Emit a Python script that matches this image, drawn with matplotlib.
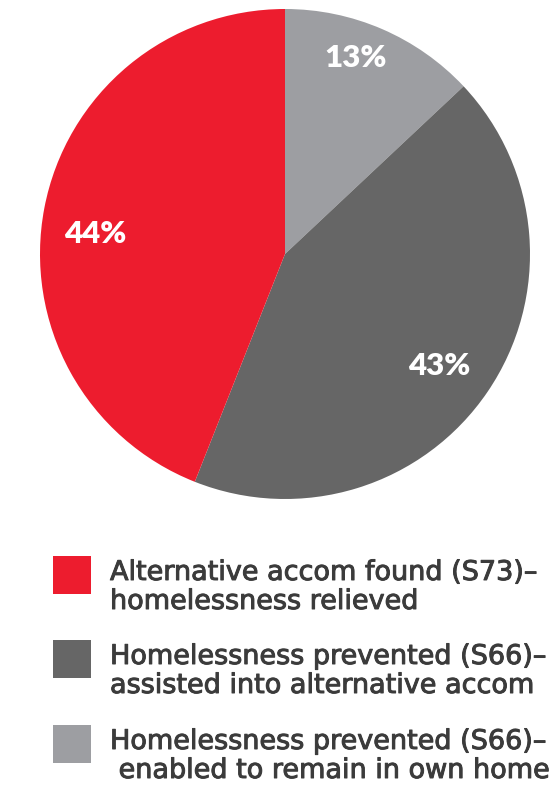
import matplotlib
matplotlib.use("Agg")
import matplotlib.pyplot as plt
import matplotlib.patheffects as pe
from matplotlib.patches import Rectangle
import numpy as np

categories = [
    "Homelessness prevented (S66)–\n enabled to remain in own home",
    "Homelessness prevented (S66)–\nassisted into alternative accom",
    "Alternative accom found (S73)–\nhomelessness relieved",
]
values = [13, 43, 44]
colors = ["#9D9EA2", "#666666", "#ED1C2E"]

# label placement (radius fraction, angle offset in degrees from slice middle)
label_pos = [(0.85, 3.7), (0.78, -1.8), (0.78, 4.8)]

legend_order = [2, 1, 0]

W, H = 560, 785
fig = plt.figure(figsize=(W / 100, H / 100), dpi=100)

cx, cy, r = 285, 254, 245
ax = fig.add_axes([(cx - r) / W, (H - cy - r) / H, 2 * r / W, 2 * r / H])
wedges, _ = ax.pie(values, colors=colors, startangle=90, counterclock=False,
                   wedgeprops=dict(linewidth=0))
ax.set_xlim(-1, 1)
ax.set_ylim(-1, 1)
ax.set_aspect("equal")
ax.axis("off")

for w, v, (rf, off) in zip(wedges, values, label_pos):
    mid = np.deg2rad((w.theta1 + w.theta2) / 2 + off)
    ax.text(rf * np.cos(mid), rf * np.sin(mid), f"{v}%", color="white",
            fontsize=22.5, fontweight="heavy", family="Lato",
            ha="center", va="center")

# legend: swatch plus two text lines per entry
sq_x, sq_w = 53, 38
rows_top = [556, 640, 725]
baseline_offset = 24
line_gap = 29
text_x = 110
target_w = 427  # pixel width of the first legend line
text_color = "#3b3b3b"

renderer = fig.canvas.get_renderer()
probe = fig.text(0, 0, categories[2].split("\n")[0], fontsize=20,
                 family="DejaVu Sans")
fs = 20 * target_w / probe.get_window_extent(renderer).width
probe.remove()

# a thin outline in the text colour gives a medium weight
medium = [pe.withStroke(linewidth=0.7, foreground=text_color)]

for top, idx in zip(rows_top, legend_order):
    fig.patches.append(Rectangle((sq_x / W, 1 - (top + sq_w) / H), sq_w / W, sq_w / H,
                                 transform=fig.transFigure, color=colors[idx], lw=0))
    for k, line in enumerate(categories[idx].split("\n")):
        y = top + baseline_offset + k * line_gap
        fig.text(text_x / W, 1 - y / H, line, ha="left", va="baseline",
                 fontsize=fs, family="DejaVu Sans", color=text_color,
                 path_effects=medium)

fig.savefig("out.png", dpi=100)
